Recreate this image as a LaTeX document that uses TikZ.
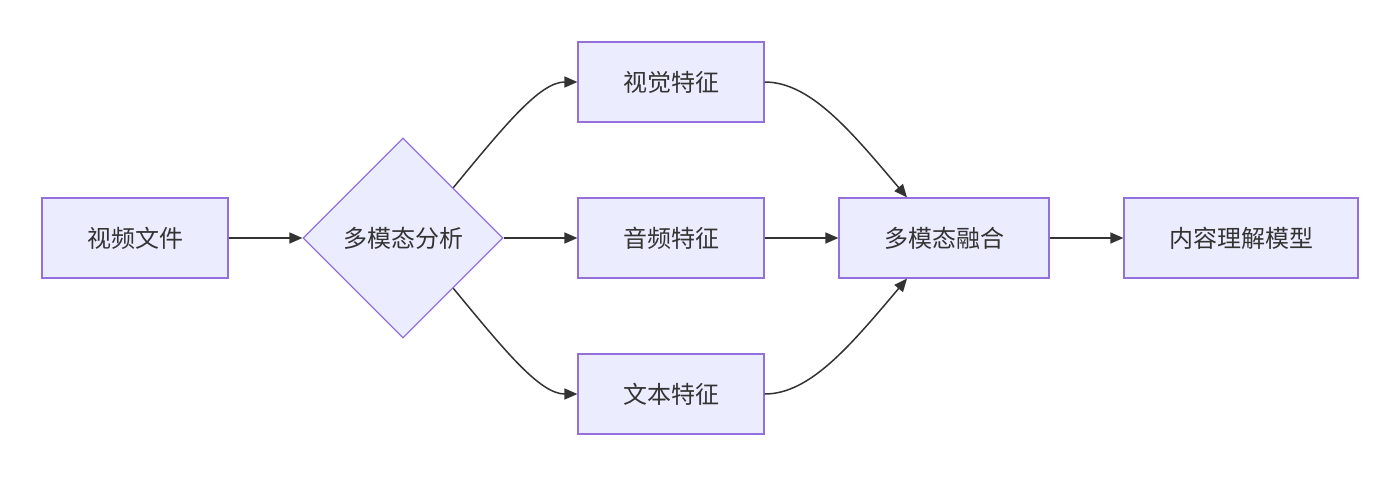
\documentclass[tikz,border=0pt]{standalone}
\usepackage{fontspec}
\setmainfont{Noto Sans CJK SC}
\usetikzlibrary{shapes.geometric,arrows.meta,calc}
\definecolor{nfill}{HTML}{ECECFF}
\definecolor{nborder}{HTML}{9370DB}
\definecolor{ink}{HTML}{333333}
\begin{document}
\begin{tikzpicture}[x=0.5pt,y=-0.5pt,
  box/.style={draw=nborder,fill=nfill,line width=0.6pt,rectangle,minimum height=40pt,inner sep=0pt,text=ink,font=\fontsize{12pt}{14pt}\selectfont},
  dia/.style={draw=nborder,fill=nfill,line width=0.6pt,diamond,aspect=1,minimum width=100pt,minimum height=100pt,inner sep=0pt,text=ink,font=\fontsize{12pt}{14pt}\selectfont},
  link/.style={draw=ink,line width=0.75pt,-{Triangle[length=6.5pt,width=5.5pt]}}]
\useasboundingbox (0,0) rectangle (1400,477);
\node[box,minimum width=93pt] (v) at (135,238) {视频文件};
\node[dia] (d) at (403,238) {多模态分析};
\node[box,minimum width=93pt] (vis) at (671,82) {视觉特征};
\node[box,minimum width=93pt] (aud) at (671,238) {音频特征};
\node[box,minimum width=93pt] (txt) at (671,394) {文本特征};
\node[box,minimum width=105pt] (f) at (944,238) {多模态融合};
\node[box,minimum width=117pt] (m) at (1241,238) {内容理解模型};
\coordinate (ftop) at ($(f.north)+(-37,0)$);
\coordinate (fbot) at ($(f.south)+(-37,0)$);
\draw[link] (v.east) -- (d.west);
\draw[link] (d.east) -- (aud.west);
\draw[link] (d.north east) .. controls (505,125) and (540,82) .. (vis.west);
\draw[link] (d.south east) .. controls (505,351) and (540,394) .. (txt.west);
\draw[link] (aud.east) -- (f.west);
\draw[link] (vis.east) .. controls (810,82) and (850,130) .. (ftop);
\draw[link] (txt.east) .. controls (810,394) and (850,346) .. (fbot);
\draw[link] (f.east) -- (m.west);
\end{tikzpicture}
\end{document}
